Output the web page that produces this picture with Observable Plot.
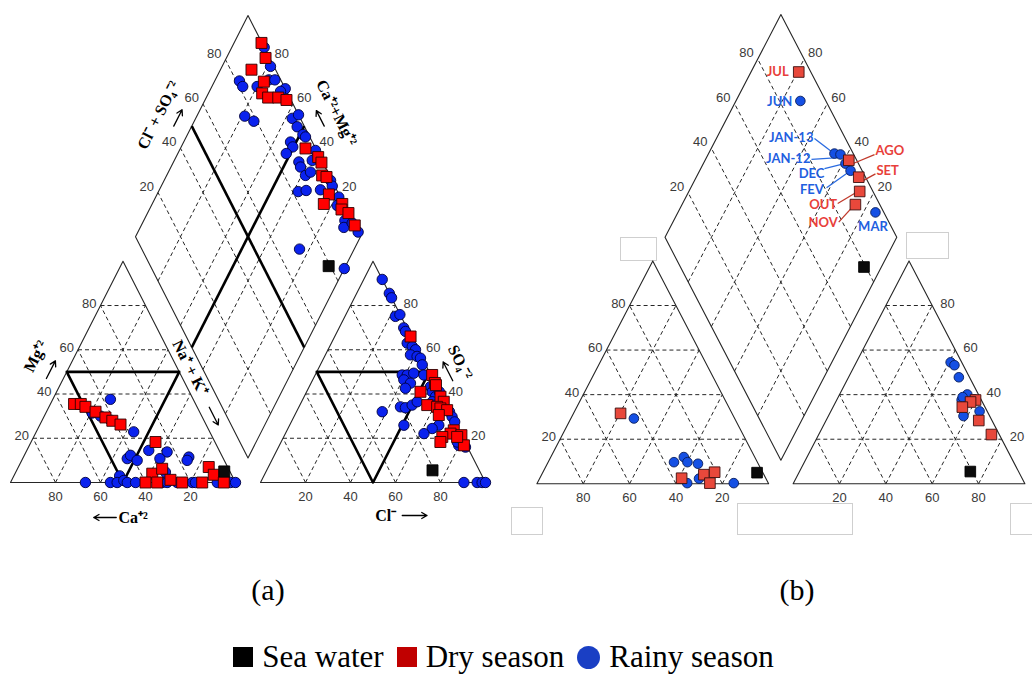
<!DOCTYPE html>
<html>
<head>
<meta charset="utf-8">
<script src="https://cdn.jsdelivr.net/npm/d3@7"></script>
<script src="https://cdn.jsdelivr.net/npm/@observablehq/plot@0.6"></script>
<style>
  body { margin: 0; background: #fff; }
  #fig { position: relative; width: 1032px; height: 675px; overflow: hidden; background: #fff; }
  #fig svg { position: absolute; top: 0; }
  .ghost { position: absolute; border: 1px solid #cfcfcf; box-sizing: border-box; }
  .plabel { position: absolute; font-family: "Liberation Serif", "Times New Roman", serif; font-size: 30px; transform: translate(-50%, -50%); }
  #legend { position: absolute; left: -6px; width: 1032px; top: 640px; height: 34px; display: flex; justify-content: center; align-items: center;
            font-family: "Liberation Serif", "Times New Roman", serif; font-size: 31px; color: #000; }
  #legend .sw { display: inline-block; width: 20px; height: 20px; margin-right: 9px; }
  #legend .item { display: flex; align-items: center; margin-right: 13px; }
</style>
</head>
<body>
<div id="fig"></div>
<script>
// ---------------- DATA ----------------
const tickValues = [20, 40, 60, 80];

// Panel (a) — cation triangle points [Ca %, Mg %]
const cationDryA = [[54,35.5],[51,35.5],[49.6,34.2],[46.2,32],[43.1,29.4],[40.8,27.9],[38,26.2],[26.4,18.3],
  [35,4],[29.5,6.2],[40,0],[34.8,0],[28.3,1.2],[23.7,0],[14.8,0],[8.4,7],[7.9,3.5],[5.2,0]];
const cationRainyA = [[36.8,37.6],[47,32],[48,31.4],[45,30],[41.5,28.2],[33.8,22.9],[31.3,14.5],[42.7,10.8],
  [40.5,12.3],[38.7,10],[23.5,13.8],[28.2,10.8],[15,11.5],[16.5,10],[28.8,4.7],[50,3],[66.7,0],[55.6,0],
  [52.6,0],[49.2,0.9],[48.1,0],[44.4,0],[32.6,0],[30.4,0],[25.9,0],[19.2,0],[17.8,0],[8.1,0],[2.2,0],[0,0]];
// Panel (a) — anion triangle points [Cl %, SO4 %]
const anionDryA = [[33.7,66],[52,48.6],[55,45],[56,44],[50.6,41],[60.6,38.8],[63.2,36.5],[56.6,35],[61.4,34.2],
  [63.2,33.5],[66.6,32.7],[64,30.5],[74.1,23.6],[73.4,22.1],[78.6,21.4],[70.5,20.6],[70.8,18.3],[82,16.8],[77.1,20.6]];
const anionRainyA = [[8.2,91.8],[14.5,85.5],[16.5,83.5],[22.4,75.1],[24,75.9],[28.7,69.9],[30.3,68.3],[33.7,63],
  [36.7,61.5],[38.9,60],[37.8,57.7],[41.1,57],[43,56.2],[45.3,53.2],[38.7,48.6],[40.9,48.6],[43.4,49.4],[48.3,48.6],
  [40.5,46.4],[44.2,44.9],[43.1,42.6],[53.9,43.3],[55.8,41],[58.4,38.8],[59,41],[38.1,32],[45.1,34.2],[47.5,33.8],
  [49.9,35],[51.4,36.5],[58.1,36.5],[60.3,35],[68,32],[70.3,29.7],[72.6,27.4],[66.3,25.9],[50.8,25.9],[64.1,24.4],
  [61.6,22.1],[79.7,16.8],[83.1,16],[78.3,18.3],[90.4,0],[96.3,0],[98.5,0],[100,0]];
// Panel (a) — diamond points [Ca+Mg %, Cl+SO4 %]
const diamondDryA = [[87.8,99.8],[82.6,98.2],[86.2,89.3],[78,92.1],[76.1,88.7],[72.5,90.4],[68,94.9],[63.8,98],
  [44.4,95.5],[36.8,99.2],[34.1,99.4],[30.9,96.8],[28.6,98.4],[23.6,95.5],[23.7,91.1],[15.5,99.3],[14.6,97.7],[10.7,100],[5.1,100]];
const diamondRainyA = [[85.6,100],[78.5,98.5],[89,81.4],[86.3,81.6],[76.2,94.7],[73.5,97.4],[79.9,88],[66.9,100],
  [68.4,97.3],[78.7,75.8],[73.5,78.7],[57.1,96.4],[55.1,100],[53,96.7],[48.7,97.5],[47,98.1],[52.5,90.3],[50.4,90.2],
  [51.8,85.8],[44.3,89.5],[42.4,89.1],[38.3,89.4],[38.7,95.8],[39.5,99.5],[36.8,92.4],[26,99.4],[24,98.9],[37.9,82.5],
  [34.6,86.3],[28.4,92.8],[18.6,99.3],[17.4,96.7],[10.6,96.7],[9.5,94.7],[2.1,100],[6.8,99.4],[24.3,70.1],[0,85.6]];

// Panel (b)
const cationDryB = [[48.1,31.6],[36.3,2.5],[25.9,4.1],[20.7,5.2],[25.2,0.3]];
const cationRainyB = [[43.5,29.3],[36,9.7],[30.6,12],[30.2,9.7],[26,9],[28.9,2.3],[35,0.3],[14.9,0.3]];
const anionDryB = [[59.9,37.6],[58.2,36.7],[55.8,34.4],[65.9,28.4],[74.5,22.1]];
const anionRainyB = [[40.7,54.5],[43,53.2],[47.6,47.8],[55.1,40.1],[53.9,37.6],[58.3,30.4],[64.2,32.5],[53.7,38.9]];
const months      = ["JUL","AGO","SET","OUT","NOV","JUN","JAN-13","JAN-12","DEC","FEV","MAR"];
const monthSeason = ["dry","dry","dry","dry","dry","rainy","rainy","rainy","rainy","rainy","rainy"];
const monthCaMg   = [79.4, 38.0, 29.9, 26.3, 25.2, 72.2, 45.7, 42.9, 38.7, 34.9, 14.8];
const monthClSO4  = [94.8, 96.6, 97.1, 94.3, 89.5, 89.0, 91.9, 94.3, 94.4, 95.0, 96.4];

// Sea water sample [Ca, Mg] and [Cl, SO4]
const seaCation = [2.5, 5];
const seaAnion = [73.7, 5.5];

// Axis titles (panel a) and legend
const titleTexts = ["Mg\u207A\u00B2", "Ca\u207A\u00B2", "Na\u207A + K\u207A", "Cl\u207B", "SO\u2084\u207B\u00B2", "Cl\u207B + SO\u2084\u207B\u00B2", "Ca\u207A\u00B2+Mg\u207A\u00B2"];
const legendLabels = ["Sea water", "Dry season", "Rainy season"];
const panelLabels = ["(a)", "(b)"];

// ---------------- LAYOUT (pixels / styles, kept apart from the data) ----------------
const H = Math.sqrt(3) / 2;
const cfgA = {left: 0, xLeft: 10, xRight: 485, yBase: 482, yTop: 15, gap: 0.1111, bold: true, titles: true,
  red: "#ff0000", redStroke: "#300000", blue: "#0a22ee", blueStroke: "#00003c", rSq: 6.2, rC: 5.2};
const cfgB = {left: 516, xLeft: 536.4, xRight: 1024.4, yBase: 483.3, yTop: 14, gap: 0.1057, bold: false, titles: false,
  red: "#e8483b", redStroke: "#3a1010", blue: "#1550e4", blueStroke: "#0a1e5a", rSq: 6.0, rC: 4.8};
const monthLayout = {
  "JUL":    {dx: -10,   dy: 0,     anchor: "end"},
  "JUN":    {dx: -8,    dy: 1,     anchor: "end"},
  "JAN-13": {dx: -21,   dy: -15.5, anchor: "end",   lead: [-20, -15, -3, -2]},
  "JAN-12": {dx: -30,   dy: 4.5,   anchor: "end",   lead: [-29, 5, 2, 3]},
  "DEC":    {dx: -21,   dy: 10.2,  anchor: "end",   lead: [-21, 5, -1, 0]},
  "FEV":    {dx: -26.7, dy: 18.6,  anchor: "end",   lead: [-24, 17, 0, 0]},
  "AGO":    {dx: 26.7,  dy: -9,    anchor: "start", lead: [5, 3, 25.7, -5.7]},
  "SET":    {dx: 17.7,  dy: -6.3,  anchor: "start", lead: [4.4, 3.4, 16.7, -3.3]},
  "OUT":    {dx: -22.6, dy: 13.4,  anchor: "end",   lead: [-22, 12, -4, 1.3]},
  "NOV":    {dx: -17.7, dy: 18,    anchor: "end",   lead: [-16.7, 17.5, -1.7, 1]},
  "MAR":    {dx: -2.5,  dy: 14.4,  anchor: "middle"}
};

function makePanel(cfg, d) {
  const g = cfg.gap;
  const xMax = 2 + g, yMax = H * (2 + g);
  const kx = (cfg.xRight - cfg.xLeft) / xMax;
  const ky = (cfg.yBase - cfg.yTop) / yMax;
  const ang = Math.atan2(ky * H, kx * 0.5) * 180 / Math.PI;
  const cat = (ca, mg) => [(100 - ca - mg) / 100 + mg / 200, H * mg / 100];
  const an = (cl, so4) => [1 + g + cl / 100 + so4 / 200, H * so4 / 100];
  const dia = (camg, a) => { const na = 1 - camg / 100, aa = a / 100; return [(1 + g + na + aa) / 2, H * (1 + g + aa - na)]; };
  const seg = (p, q) => ({x1: p[0], y1: p[1], x2: q[0], y2: q[1]});
  const X = p => p[0], Y = p => p[1];
  const lineCol = "#262626";

  const grid = [];
  for (const v of tickValues) {
    grid.push(seg(cat(100 - v, v), cat(0, v)), seg(cat(v, 0), cat(v, 100 - v)), seg(cat(100 - v, 0), cat(0, 100 - v)));
    grid.push(seg(an(0, v), an(100 - v, v)), seg(an(v, 0), an(v, 100 - v)), seg(an(100 - v, 0), an(0, 100 - v)));
    grid.push(seg(dia(0, v), dia(100, v)), seg(dia(v, 0), dia(v, 100)));
  }
  const outlines = [
    [cat(100, 0), cat(0, 0), cat(0, 100), cat(100, 0)],
    [an(0, 0), an(100, 0), an(0, 100), an(0, 0)],
    [dia(0, 0), dia(100, 0), dia(100, 100), dia(0, 100), dia(0, 0)]
  ];
  const marks = [];
  marks.push(Plot.link(grid, {x1: "x1", y1: "y1", x2: "x2", y2: "y2", stroke: lineCol, strokeWidth: 1, strokeDasharray: "4,3"}));
  for (const poly of outlines) marks.push(Plot.line(poly, {x: X, y: Y, stroke: lineCol, strokeWidth: 1.1}));
  if (cfg.bold) {
    marks.push(Plot.line([cat(50, 50), cat(0, 50), cat(50, 0), cat(50, 50)], {x: X, y: Y, stroke: "#000", strokeWidth: 2.6}));
    marks.push(Plot.line([an(0, 50), an(50, 50), an(50, 0), an(0, 50)], {x: X, y: Y, stroke: "#000", strokeWidth: 2.6}));
    marks.push(Plot.link([seg(dia(100, 50), dia(0, 50)), seg(dia(50, 0), dia(50, 100))],
      {x1: "x1", y1: "y1", x2: "x2", y2: "y2", stroke: "#000", strokeWidth: 2.6}));
  }
  // tick labels
  const tk = {fontSize: 13, fontFamily: "Liberation Sans, Arial, sans-serif", fill: "#3a3a3a"};
  const tickMark = (f, opts) => Plot.text(tickValues, {x: v => f(v)[0], y: v => f(v)[1], text: v => String(v), ...tk, ...opts});
  marks.push(tickMark(v => cat(100 - v, v), {textAnchor: "end", dx: -4, dy: -2}));
  marks.push(tickMark(v => cat(v, 0), {dy: 14}));
  marks.push(tickMark(v => an(v, 0), {dy: 14}));
  marks.push(tickMark(v => an(100 - v, v), {textAnchor: "start", dx: 8, dy: -2}));
  marks.push(tickMark(v => dia(100, v), {textAnchor: "end", dx: -4, dy: -6}));
  marks.push(tickMark(v => dia(v, 100), {textAnchor: "start", dx: 4, dy: -6}));

  // axis titles (panel a)
  if (cfg.titles) {
    const tf = {fontSize: 16, fontFamily: "Liberation Serif, Times New Roman, serif", fontWeight: "bold", fill: "#000"};
    const titleAnchors = [
      {p: cat(42, 58), dx: -40, dy: 2, rotate: -ang, ta: "middle"},
      {p: cat(52, 0), dx: 0, dy: 35, rotate: 0, ta: "start"},
      {p: cat(0, 52), dx: 13, dy: 0, rotate: ang, ta: "middle"},
      {p: an(51, 0), dx: 0, dy: 33, rotate: 0, ta: "start"},
      {p: an(45.6, 54.4), dx: 36, dy: 0, rotate: ang, ta: "middle"},
      {p: dia(100, 55), dx: -39, dy: 0, rotate: -ang, ta: "middle"},
      {p: dia(56, 100), dx: 39, dy: 0, rotate: ang, ta: "middle"}
    ];
    titleTexts.forEach((t, i) => {
      const a = titleAnchors[i];
      marks.push(Plot.text([t], {x: () => a.p[0], y: () => a.p[1], text: s => s, dx: a.dx, dy: a.dy, rotate: a.rotate, textAnchor: a.ta, ...tf}));
    });
    const arrows = [
      {p: cat(53, 47), q: cat(45, 55), dx: -17, dy: 0},
      {p: cat(0, 34), q: cat(0, 26), dx: 12, dy: 0},
      {p: cat(53, 0), q: cat(63, 0), dx: 0, dy: 35},
      {p: an(63, 0), q: an(74, 0), dx: 0, dy: 33},
      {p: an(54, 46), q: an(45.5, 54.5), dx: 19, dy: 0},
      {p: dia(100, 50), q: dia(100, 57.4), dx: -18, dy: 0},
      {p: dia(50, 100), q: dia(57, 100), dx: 20, dy: 0}
    ];
    for (const a of arrows) {
      marks.push(Plot.arrow([a], {x1: s => s.p[0], y1: s => s.p[1], x2: s => s.q[0], y2: s => s.q[1],
        dx: a.dx, dy: a.dy, stroke: "#000", strokeWidth: 1.3, headLength: 7}));
    }
  }

  // month leader lines (panel b)
  if (d.months) {
    const leads = [];
    d.months.forEach((m, i) => {
      const L = monthLayout[m];
      if (!L.lead) return;
      const p = dia(d.monthCaMg[i], d.monthClSO4[i]);
      leads.push({x1: p[0] + L.lead[0] / kx, y1: p[1] - L.lead[1] / ky, x2: p[0] + L.lead[2] / kx, y2: p[1] - L.lead[3] / ky,
        c: d.monthSeason[i] === "dry" ? "#c0392b" : "#2a6be0"});
    });
    marks.push(Plot.link(leads, {x1: "x1", y1: "y1", x2: "x2", y2: "y2", stroke: "c", strokeWidth: 1.3}));
  }

  // points
  const dot = (arr, f, fill, stroke, symbol, r) =>
    Plot.dot(arr, {x: p => f(p[0], p[1])[0], y: p => f(p[0], p[1])[1], fill, stroke, strokeWidth: 0.9, symbol, r});
  marks.push(dot(d.cationRainy, cat, cfg.blue, cfg.blueStroke, "circle", cfg.rC));
  marks.push(dot(d.anionRainy, an, cfg.blue, cfg.blueStroke, "circle", cfg.rC));
  if (d.diamondRainy) marks.push(dot(d.diamondRainy, dia, cfg.blue, cfg.blueStroke, "circle", cfg.rC));
  marks.push(dot(d.cationDry, cat, cfg.red, cfg.redStroke, "square", cfg.rSq));
  marks.push(dot(d.anionDry, an, cfg.red, cfg.redStroke, "square", cfg.rSq));
  if (d.diamondDry) marks.push(dot(d.diamondDry, dia, cfg.red, cfg.redStroke, "square", cfg.rSq));
  if (d.months) {
    const idx = d.months.map((m, i) => i);
    const pos = i => dia(d.monthCaMg[i], d.monthClSO4[i]);
    marks.push(Plot.dot(idx.filter(i => d.monthSeason[i] === "rainy"), {x: i => pos(i)[0], y: i => pos(i)[1], symbol: "circle", r: cfg.rC, fill: cfg.blue, stroke: cfg.blueStroke, strokeWidth: 0.9}));
    marks.push(Plot.dot(idx.filter(i => d.monthSeason[i] === "dry"), {x: i => pos(i)[0], y: i => pos(i)[1], symbol: "square", r: cfg.rSq, fill: cfg.red, stroke: cfg.redStroke, strokeWidth: 0.9}));
  }
  // sea water
  const seaD = [seaCation[0] + seaCation[1], seaAnion[0] + seaAnion[1]];
  marks.push(dot([seaCation], cat, "#0b0b0b", "#000", "square", cfg.rSq));
  marks.push(dot([seaAnion], an, "#0b0b0b", "#000", "square", cfg.rSq));
  marks.push(dot([seaD], dia, "#0b0b0b", "#000", "square", cfg.rSq));

  // month labels
  if (d.months) {
    d.months.forEach((m, i) => {
      const L = monthLayout[m];
      const p = dia(d.monthCaMg[i], d.monthClSO4[i]);
      marks.push(Plot.text([m], {x: () => p[0], y: () => p[1], text: s => s, dx: L.dx, dy: L.dy, textAnchor: L.anchor,
        fontSize: 13, fontWeight: "bold", fontFamily: "Lato, Open Sans, sans-serif",
        fill: d.monthSeason[i] === "dry" ? "#e8403a" : "#1f60e0"}));
    });
  }

  const W = 516, Ht = 540;
  const svg = Plot.plot({
    width: W, height: Ht,
    marginLeft: cfg.xLeft - cfg.left, marginRight: cfg.left + W - cfg.xRight,
    marginTop: cfg.yTop, marginBottom: Ht - cfg.yBase,
    x: {domain: [0, xMax], axis: null},
    y: {domain: [0, yMax], axis: null},
    style: {background: "transparent", overflow: "visible"},
    marks
  });
  svg.style.left = cfg.left + "px";
  return svg;
}

const fig = document.getElementById("fig");
// faint leftover frames visible in panel (b) of the reference
[[620,237,37,24],[906,232,43,27],[511,507,32,28],[737,503,116,32],[1010,503,30,32]].forEach(b => {
  const e = document.createElement("div"); e.className = "ghost";
  e.style.left = b[0] + "px"; e.style.top = b[1] + "px"; e.style.width = b[2] + "px"; e.style.height = b[3] + "px";
  fig.appendChild(e);
});
fig.appendChild(makePanel(cfgA, {cationDry: cationDryA, cationRainy: cationRainyA, anionDry: anionDryA, anionRainy: anionRainyA,
  diamondDry: diamondDryA, diamondRainy: diamondRainyA}));
fig.appendChild(makePanel(cfgB, {cationDry: cationDryB, cationRainy: cationRainyB, anionDry: anionDryB, anionRainy: anionRainyB,
  months, monthSeason, monthCaMg, monthClSO4}));

// panel letters
[[268, 590], [797, 590]].forEach((p, i) => {
  const e = document.createElement("div"); e.className = "plabel";
  e.style.left = p[0] + "px"; e.style.top = p[1] + "px"; e.textContent = panelLabels[i];
  fig.appendChild(e);
});
// legend
const legend = document.createElement("div"); legend.id = "legend";
const legendSwatch = [
  {bg: "#000", radius: "0"}, {bg: "#c00000", radius: "0"}, {bg: "#1a3fc4", radius: "50%", size: 23}
];
legendLabels.forEach((t, i) => {
  const it = document.createElement("span"); it.className = "item";
  const sw = document.createElement("span"); sw.className = "sw";
  sw.style.background = legendSwatch[i].bg; sw.style.borderRadius = legendSwatch[i].radius;
  if (legendSwatch[i].size) { sw.style.width = legendSwatch[i].size + "px"; sw.style.height = legendSwatch[i].size + "px"; }
  const tx = document.createElement("span"); tx.textContent = t;
  it.appendChild(sw); it.appendChild(tx); legend.appendChild(it);
});
fig.appendChild(legend);
</script>
</body>
</html>
